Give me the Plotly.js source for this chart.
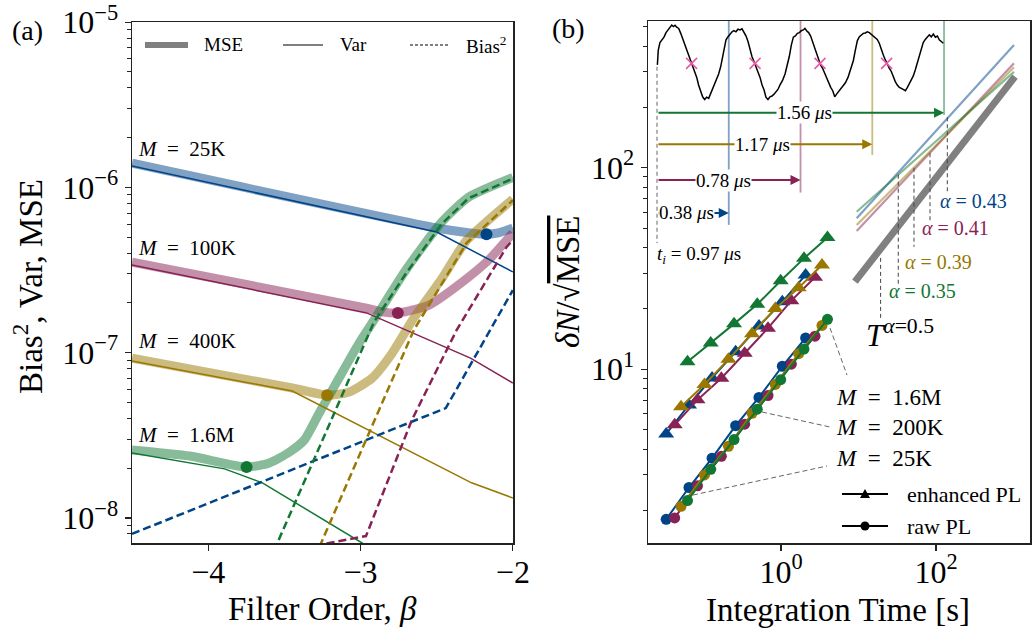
<!DOCTYPE html>
<html><head><meta charset="utf-8">
<script src="https://cdn.plot.ly/plotly-3.0.1.min.js"></script>
<style>body{margin:0;background:#fff}#chart{width:1033px;height:633px}</style>
</head><body><div id="chart"></div>
<script>
// ---------------- Panel (a): Bias^2, Var, MSE vs filter order beta ----------------
const mLabelsA = ['25K', '100K', '400K', '1.6M'];
// M = 25K (blue)
const betaMse25K = [-4.5, -2.5, -2.28, -2.173, -2.095, -2.0];
const mse25K     = [1.40e-6, 5.68e-7, 5.30e-7, 5.21e-7, 5.30e-7, 5.68e-7];
const betaVar25K = [-4.5, -2.5, -2.0];
const var25K     = [1.35e-6, 5.37e-7, 3.08e-7];
const betaBias25K = [-4.5, -2.44, -2.0];
const bias25K     = [8.0e-9, 4.62e-8, 2.39e-7];
// M = 100K (wine)
const betaMse100K = [-4.5, -2.96, -2.85, -2.755, -2.55, -2.34, -2.16, -2.0];
const mse100K     = [3.53e-7, 1.86e-7, 1.76e-7, 1.74e-7, 1.94e-7, 2.64e-7, 3.63e-7, 5.3e-7];
const betaVar100K = [-4.5, -2.96, -2.278, -2.0];
const var100K     = [3.39e-7, 1.74e-7, 9.27e-8, 6.55e-8];
const betaBias100K = [-3.3, -2.964, -2.663, -2.369, -2.042, -2.0];
const bias100K     = [6.8e-9, 7.76e-9, 3.91e-8, 1.37e-7, 4.35e-7, 4.8e-7];
// M = 400K (gold)
const betaMse400K = [-4.5, -3.448, -3.219, -3.08, -2.925, -2.8, -2.65, -2.467, -2.304, -2.0];
const mse400K     = [9.27e-8, 6.11e-8, 5.53e-8, 5.75e-8, 7.0e-8, 9.7e-8, 1.62e-7, 2.8e-7, 4.77e-7, 8.5e-7];
const betaVar400K = [-4.5, -3.448, -2.271, -2.0];
const var400K     = [8.89e-8, 5.86e-8, 1.63e-8, 1.32e-8];
const betaBias400K = [-3.3, -3.258, -2.65, -2.304, -2.0];
const bias400K     = [5.75e-9, 7.05e-9, 1.37e-7, 4.60e-7, 8.37e-7];
// M = 1.6M (green)
const betaMse16M = [-4.5, -4.121, -3.748, -3.598, -3.467, -3.369, -3.271, -3.141, -3.010, -2.899, -2.703, -2.467, -2.291, -2.0];
const mse16M     = [2.58e-8, 2.37e-8, 2.03e-8, 2.15e-8, 2.50e-8, 2.96e-8, 4.31e-8, 7.02e-8, 1.14e-7, 1.64e-7, 3.16e-7, 6.17e-7, 8.73e-7, 1.15e-6];
const betaVar16M = [-4.5, -3.892, -3.644, -2.990, -2.88];
const var16M     = [2.47e-8, 1.98e-8, 1.63e-8, 7.05e-9, 6.0e-9];
const betaBias16M = [-3.598, -3.546, -3.206, -2.912, -2.703, -2.467, -2.291, -2.0];
const bias16M     = [5.4e-9, 7.05e-9, 3.65e-8, 1.53e-7, 3.0e-7, 6.0e-7, 8.6e-7, 1.13e-6];
// optimum (minimum MSE) points
const betaOpt = [-2.173, -2.755, -3.219, -3.748];
const mseOpt  = [5.21e-7, 1.74e-7, 5.53e-8, 2.03e-8];

// ---------------- Panel (b): dN/sqrt(MSE) vs integration time ----------------
const tBlue  = [0.0330, 0.0650, 0.129, 0.260, 0.520, 1.04, 2.08];
const enhBlue = [4.78, 6.65, 9.06, 12.2, 16.4, 21.6, 29.4];
const rawBlue = [1.80, 2.59, 3.62, 5.25, 7.25, 10.35, 14.3];
const tWine  = [0.0425, 0.0837, 0.170, 0.340, 0.680, 1.36, 2.75];
const enhWine = [5.30, 7.05, 9.02, 12.0, 16.0, 21.9, 28.6];
const rawWine = [1.83, 2.64, 3.70, 5.34, 7.41, 10.6, 14.6];
const tGold  = [0.0513, 0.103, 0.210, 0.423, 0.844, 1.69, 3.38];
const enhGold = [6.51, 8.40, 11.2, 15.0, 20.0, 25.4, 32.9];
const rawGold = [2.09, 2.99, 4.15, 6.05, 8.41, 11.95, 16.5];
const tGreen = [0.0622, 0.124, 0.248, 0.494, 0.991, 1.98, 3.98];
const enhGreen = [10.9, 13.5, 16.8, 21.0, 27.5, 35.5, 45.0];
const rawGreen = [2.23, 3.19, 4.48, 6.34, 8.88, 12.6, 17.7];
// long-time scaling lines T^alpha
const tFit = [9.48, 1015];
const fitBlue = [56.1, 406];
const fitWine = [48.5, 330];
const fitGold = [52.0, 315];
const fitGreen = [60.5, 299];
const tRef = [9.0, 1045];
const fitRef = [27.2, 283];
const alphaLabels = ['0.43', '0.41', '0.39', '0.35'];
const alphaX = [140, 83.7, 52.0, 32.6, 19.3];
const alphaYTop = [178, 118, 100, 92.3, 35.7];
const alphaYBot = [74.8, 53.8, 40.5, 26.2, 17.9];

// ---------------- Inset: PL trace (time in us, normalised signal) ----------------
const tPL = [0.002,0.007,0.016,0.027,0.038,0.049,0.062,0.071,0.080,0.089,0.098,0.107,0.118,0.129,0.139,0.150,0.161,0.172,0.183,0.194,0.205,0.216,0.226,0.237,0.248,0.259,0.270,0.281,0.292,0.303,0.313,0.324,0.335,0.346,0.355,0.364,0.375,0.386,0.397,0.408,0.418,0.429,0.440,0.451,0.462,0.473,0.484,0.495,0.505,0.516,0.527,0.538,0.549,0.560,0.571,0.582,0.592,0.603,0.614,0.625,0.636,0.647,0.658,0.668,0.683,0.696,0.708,0.719,0.730,0.741,0.752,0.763,0.774,0.784,0.795,0.804,0.813,0.824,0.835,0.846,0.857,0.868,0.879,0.889,0.900,0.911,0.922,0.933,0.944,0.955,0.966,0.976,0.987,0.998,1.009,1.024,1.038,1.053,1.067,1.078,1.089,1.100,1.111,1.121,1.132,1.143,1.154,1.165,1.176,1.187,1.197,1.208,1.219,1.230,1.241,1.252,1.263,1.274,1.284,1.295,1.306,1.317,1.328,1.339,1.350,1.361,1.371,1.382,1.393,1.404,1.415,1.426,1.437,1.447,1.458,1.469,1.480,1.491,1.502,1.513,1.524,1.534,1.545,1.556];
const sPL = [-0.05,0.34,0.54,0.62,0.68,0.80,0.89,0.96,1.00,0.96,0.99,0.94,0.91,0.78,0.65,0.47,0.34,0.18,0.06,-0.05,-0.23,-0.38,-0.58,-0.73,-0.89,-0.96,-0.90,-0.93,-0.80,-0.71,-0.58,-0.45,-0.29,-0.10,0.12,0.43,0.61,0.69,0.76,0.82,0.85,0.82,0.89,0.87,0.90,0.80,0.71,0.56,0.34,0.17,0.04,-0.10,-0.20,-0.38,-0.58,-0.71,-0.90,-0.96,-0.89,-0.87,-0.82,-0.76,-0.69,-0.58,-0.45,-0.29,-0.08,0.17,0.47,0.68,0.71,0.78,0.80,0.85,0.87,0.91,0.85,0.80,0.71,0.56,0.43,0.24,0.12,-0.05,-0.14,-0.27,-0.40,-0.54,-0.64,-0.73,-0.89,-0.82,-0.75,-0.69,-0.64,-0.52,-0.38,-0.18,0.06,0.34,0.59,0.69,0.75,0.78,0.79,0.82,0.80,0.76,0.71,0.68,0.62,0.52,0.34,0.21,0.08,-0.05,-0.14,-0.23,-0.36,-0.49,-0.58,-0.64,-0.67,-0.71,-0.73,-0.64,-0.54,-0.45,-0.34,-0.18,-0.01,0.18,0.39,0.54,0.62,0.68,0.74,0.69,0.76,0.68,0.71,0.61,0.56,0.52];
const tCross = [0.188, 0.533, 0.886, 1.248];
const sCross = [-0.01, -0.01, -0.01, -0.01];
const tWindow = [0.39, 0.78, 1.17, 1.56];
const windowLabels = ['0.38', '0.78', '1.17', '1.56'];
const sWindowBottom = [-4.26, -3.41, -2.42, -1.37];
const sArrow = [-3.947, -3.079, -2.139, -1.308];
const tLabelMid = [0.161, 0.360, 0.574, 0.804];
const sInsetTop = 1.105;

// ---------------- styling ----------------
const FONT = 'Liberation Serif, DejaVu Serif, serif';
const col = ['#004488', '#882255', '#997700', '#117733'];
const colA = ['rgba(0,68,136,0.5)', 'rgba(136,34,85,0.5)', 'rgba(153,119,0,0.5)', 'rgba(17,119,51,0.5)'];
const W = 1033, H = 633;
const PX = x => x / W, PY = y => 1 - y / H;

const traces = [];
const A = {xaxis: 'x', yaxis: 'y'};
const mseSets = [[betaMse25K, mse25K], [betaMse100K, mse100K], [betaMse400K, mse400K], [betaMse16M, mse16M]];
const varSets = [[betaVar25K, var25K], [betaVar100K, var100K], [betaVar400K, var400K], [betaVar16M, var16M]];
const biasSets = [[betaBias25K, bias25K], [betaBias100K, bias100K], [betaBias400K, bias400K], [betaBias16M, bias16M]];
mseSets.forEach((s, i) => traces.push(Object.assign({x: s[0], y: s[1], mode: 'lines', line: {color: colA[i], width: 9, shape: 'spline', smoothing: 0.6}}, A)));
varSets.forEach((s, i) => traces.push(Object.assign({x: s[0], y: s[1], mode: 'lines', line: {color: col[i], width: 1.5}}, A)));
biasSets.forEach((s, i) => traces.push(Object.assign({x: s[0], y: s[1], mode: 'lines', line: {color: col[i], width: 2.5, dash: '8px,4px'}}, A)));
betaOpt.forEach((b, i) => traces.push(Object.assign({x: [b], y: [mseOpt[i]], mode: 'markers', marker: {color: col[i], size: 12}}, A)));

// panel (b)
const B = {xaxis: 'x2', yaxis: 'y2'};
const tSets = [tBlue, tWine, tGold, tGreen];
const enhSets = [enhBlue, enhWine, enhGold, enhGreen];
const rawSets = [rawBlue, rawWine, rawGold, rawGreen];
const fitSets = [fitBlue, fitWine, fitGold, fitGreen];
fitSets.forEach((f, i) => traces.push(Object.assign({x: tFit, y: f, mode: 'lines', line: {color: colA[i], width: 2.2}}, B)));
traces.push(Object.assign({x: tRef, y: fitRef, mode: 'lines', line: {color: '#808080', width: 7}}, B));
alphaX.forEach((x, i) => traces.push(Object.assign({x: [x, x], y: [alphaYTop[i], alphaYBot[i]], mode: 'lines', line: {color: '#444', width: 1, dash: '4px,3px'}}, B)));
tSets.forEach((t, i) => traces.push(Object.assign({x: t, y: enhSets[i], mode: 'lines+markers', line: {color: col[i], width: 2}, marker: {symbol: 'triangle-up', size: 14, color: col[i]}}, B)));
tSets.forEach((t, i) => traces.push(Object.assign({x: t, y: rawSets[i], mode: 'lines+markers', line: {color: col[i], width: 2}, marker: {symbol: 'circle', size: 11, color: col[i]}}, B)));

// inset
const I = {xaxis: 'x3', yaxis: 'y3'};
tWindow.forEach((t, i) => traces.push(Object.assign({x: [t, t], y: [sInsetTop, sWindowBottom[i]], mode: 'lines', line: {color: colA[i], width: 1.8}}, I)));
traces.push(Object.assign({x: [0, 0], y: [-0.1, -4.74], mode: 'lines', line: {color: '#666', width: 1, dash: '4px,3px'}}, I));
traces.push(Object.assign({x: tPL, y: sPL, mode: 'lines', line: {color: '#000', width: 1.5}}, I));
traces.push(Object.assign({x: tCross, y: sCross, mode: 'markers', marker: {symbol: 'x-thin', size: 11, line: {color: '#e85aa6', width: 1.6}}}, I));

// ---------------- annotations ----------------
const ann = [];
const txt = (x, y, text, size, opts) => ann.push(Object.assign({xref: 'paper', yref: 'paper', x: PX(x), y: PY(y), text, showarrow: false, xanchor: 'left', yanchor: 'middle', font: {family: FONT, size, color: '#000'}}, opts || {}));

txt(10, 30, '(a)', 28);
txt(550, 28, '(b)', 28);
// axis titles
txt(28, 287, 'Bias<sup>2</sup>, Var, MSE', 33, {xanchor: 'center', textangle: -90});
txt(322, 609, 'Filter Order, <i>β</i>', 33, {xanchor: 'center'});
txt(838, 610, 'Integration Time [s]', 33, {xanchor: 'center'});
txt(568, 282, '<i>δN</i>/√<span style="text-decoration:overline">MSE</span>', 33, {xanchor: 'center', textangle: -90});
// M labels panel a
const mLabelY = [149, 248, 341, 435];
mLabelsA.forEach((m, i) => txt(136, mLabelY[i], '<i>M</i>  =  ' + m, 21));
// legend panel a
txt(202, 45, 'MSE', 19);
txt(338, 45, 'Var', 19);
txt(464, 45, 'Bias<sup>2</sup>', 19);
// alpha labels
const alphaLabelPos = [[938, 201], [920, 228], [903, 262], [887, 291]];
alphaLabels.forEach((a, i) => txt(alphaLabelPos[i][0], alphaLabelPos[i][1], '<i>α</i> = ' + a, 20, {font: {family: FONT, size: 20, color: col[i]}}));
txt(864, 333, '<i>T</i><sup><i>α</i>=0.5</sup>', 31);
// M labels panel b
const mLabelsB = ['1.6M', '200K', '25K'];
const mLabelYB = [397, 427, 458];
mLabelsB.forEach((m, i) => txt(834, mLabelYB[i], '<i>M</i>  =  ' + m, 23));
// legend panel b
txt(905, 494, 'enhanced PL', 22);
txt(905, 526, 'raw PL', 22);

// inset arrows + labels
tWindow.forEach((t, i) => {
  ann.push({xref: 'x3', yref: 'y3', axref: 'x3', ayref: 'y3', x: t, y: sArrow[i], ax: 0, ay: sArrow[i], text: '', showarrow: true, arrowhead: 2, arrowsize: 1, arrowwidth: 2, arrowcolor: col[i], standoff: 0, startstandoff: 0});
});
tWindow.forEach((t, i) => {
  ann.push({xref: 'x3', yref: 'y3', x: tLabelMid[i], y: sArrow[i], text: windowLabels[i] + ' <i>μ</i>s', showarrow: false, bgcolor: '#fff', borderpad: 0, font: {family: FONT, size: 19, color: '#000'}});
});
ann.push({xref: 'x3', yref: 'y3', x: -0.012, y: -5.05, xanchor: 'left', text: '<i>t<sub>i</sub></i> = 0.97 <i>μ</i>s', showarrow: false, font: {family: FONT, size: 19, color: '#000'}});

// ---------------- shapes (legends, connectors) ----------------
const shapes = [];
const seg = (x0, y0, x1, y1, line) => shapes.push({type: 'line', xref: 'paper', yref: 'paper', x0: PX(x0), y0: PY(y0), x1: PX(x1), y1: PY(y1), line});
seg(145, 45, 188, 45, {color: '#808080', width: 6});
seg(283, 45, 323, 45, {color: '#000', width: 1.2});
seg(410, 45, 450, 45, {color: '#000', width: 1.2, dash: '3px,2px'});
seg(842, 494, 888, 494, {color: '#000', width: 2});
seg(842, 526, 888, 526, {color: '#000', width: 2});
shapes.push({type: 'path', xref: 'paper', yref: 'paper', xsizemode: 'pixel', ysizemode: 'pixel', xanchor: PX(865), yanchor: PY(494), path: 'M -5 -4 L 5 -4 L 0 5 Z', fillcolor: '#000', line: {width: 0}});
shapes.push({type: 'circle', xref: 'paper', yref: 'paper', xsizemode: 'pixel', ysizemode: 'pixel', xanchor: PX(865), yanchor: PY(526), x0: -4.5, x1: 4.5, y0: -4.5, y1: 4.5, fillcolor: '#000', line: {width: 0}});
const dashG = {color: '#666', width: 1, dash: '5px,3px'};
seg(830, 328, 847, 375, dashG);
seg(762, 412, 830, 427, dashG);
seg(693, 495, 827, 466, dashG);

// ---------------- axes ----------------
const logMinor = (lo, hi) => { const v = []; for (let e = lo; e <= hi; e++) for (let k = 2; k <= 9; k++) v.push(k * Math.pow(10, e)); return v; };
const axBase = {showline: true, mirror: true, linecolor: '#222', linewidth: 1.5, showgrid: false, zeroline: false, ticks: 'outside', ticklen: 6, tickwidth: 1.3, tickcolor: '#222', ticklabeloverflow: 'allow', tickfont: {family: FONT, size: 32, color: '#000'}};
const layout = {
  width: W, height: H, margin: {l: 0, r: 0, t: 0, b: 0},
  paper_bgcolor: '#fff', plot_bgcolor: 'rgba(0,0,0,0)', showlegend: false,
  xaxis: Object.assign({}, axBase, {domain: [PX(132), PX(513)], range: [-4.5, -1.999], tickmode: 'array', tickvals: [-4, -3, -2], ticktext: ['−4', '−3', '−2'], anchor: 'y', ticklabelstandoff: -6}),
  yaxis: Object.assign({}, axBase, {domain: [PY(543), PY(22)], type: 'log', range: [-8.152, -4.999], tickmode: 'array', tickvals: [1e-8, 1e-7, 1e-6, 1e-5], ticktext: ['10<sup>−8</sup>', '10<sup>−7</sup>', '10<sup>−6</sup>', '10<sup>−5</sup>'], anchor: 'x',
    minor: {tickmode: 'array', tickvals: logMinor(-9, -6), ticks: 'outside', ticklen: 3.5, tickwidth: 1, tickcolor: '#222'}}),
  xaxis2: Object.assign({}, axBase, {domain: [PX(648), PX(1030)], type: 'log', range: [-1.716, 3.213], tickmode: 'array', tickvals: [1, 100], ticktext: ['10<sup>0</sup>', '10<sup>2</sup>'], anchor: 'y2', ticklabelstandoff: -6}),
  yaxis2: Object.assign({}, axBase, {domain: [PY(543), PY(21)], type: 'log', range: [0.138, 2.728], tickmode: 'array', tickvals: [10, 100], ticktext: ['10<sup>1</sup>', '10<sup>2</sup>'], anchor: 'x2',
    minor: {tickmode: 'array', tickvals: logMinor(0, 2), ticks: 'outside', ticklen: 3.5, tickwidth: 1, tickcolor: '#222'}}),
  xaxis3: {domain: [PX(648), PX(1030)], range: [-0.0489, 2.0272], visible: false, anchor: 'y3', fixedrange: true},
  yaxis3: {domain: [PY(260), PY(21)], range: [-5.184, 1.105], visible: false, anchor: 'x3', fixedrange: true},
  annotations: ann, shapes: shapes
};
Plotly.newPlot('chart', traces, layout, {staticPlot: true});
</script>
</body></html>
